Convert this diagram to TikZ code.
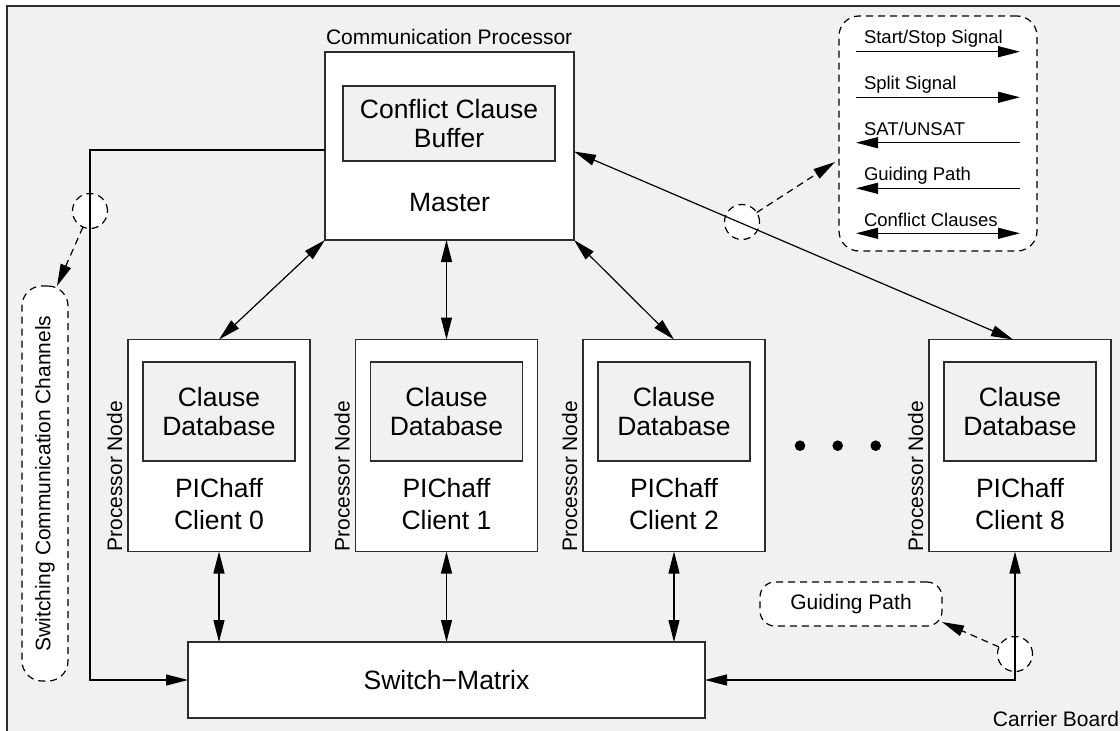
\documentclass[tikz,border=0pt]{standalone}
\usepackage{fontspec}
\setmainfont{Liberation Sans}
\usetikzlibrary{arrows.meta,calc}
\definecolor{boardgrey}{RGB}{241,241,241}
\definecolor{edgegrey}{RGB}{45,45,45}
\newcommand\bigtxt{\fontsize{26.5pt}{29pt}\selectfont}
\newcommand\lbltxt{\fontsize{21pt}{24pt}\selectfont}
\newcommand\keytxt{\fontsize{18.5pt}{21pt}\selectfont}
\tikzset{
  >={Triangle[length=22pt,width=11pt]},
  every node/.style={inner sep=0pt, outer sep=0pt},
  box/.style={draw=edgegrey, line width=1.4pt, fill=white},
  inbox/.style={draw=edgegrey, line width=1.4pt, fill=boardgrey, align=center, font=\bigtxt},
  conn/.style={draw=black, line width=1.2pt},
  dashline/.style={draw=black, line width=1.2pt, dash pattern=on 7pt off 5pt},
  pill/.style={dashline, fill=white},
  ring/.style={circle, minimum size=35pt, dashline, fill=white},
  dot/.style={circle, fill=black, minimum size=10.6pt}
}
\begin{document}
\begin{tikzpicture}[x=1pt,y=-1pt]
\useasboundingbox (0,0) rectangle (1120,731);
\clip (0,0) rectangle (1120,731);
\fill[white] (0,0) rectangle (1120,731);

% carrier board
\draw[draw=edgegrey, line width=2pt, fill=boardgrey] (7,6) rectangle (1140,750);
\node[font=\lbltxt, anchor=base east] (cb) at (1119,726) {Carrier Board};

% marker rings (lines pass over them)
\node[ring] (cL) at (90,211) {};
\node[ring] (cR) at (742,222) {};
\node[ring] (cB) at (1015,654) {};

% master
\node[font=\lbltxt, anchor=base west] (cpl) at (326,44) {Communication Processor};
\node[box, minimum width=249pt, minimum height=188pt] (m) at (449.5,146) {};
\node[inbox, minimum width=212pt, minimum height=75pt] (ccb) at (449,123.5) {Conflict Clause\\Buffer};
\node[font=\bigtxt, anchor=base] (mt) at (449.5,211) {Master};

% clients
\foreach \k/\cx in {0/219,1/446.5,2/674,8/1020} {
  \node[box, minimum width=182pt, minimum height=212pt] (c\k) at (\cx,445.5) {};
  \node[inbox, minimum width=152pt, minimum height=99pt] (db\k) at (\cx,411.6) {Clause\\Database};
  \node[font=\bigtxt, align=center] (pc\k) at (\cx,504.5) {PIChaff\\[3pt]Client \k};
  \node[font=\lbltxt, rotate=90, anchor=base west] (pn\k) at ($(c\k.south west)+(-6,0)$) {Processor Node};
}
\node[dot] (d1) at (800,445.7) {};
\node[dot] (d2) at (837.7,445.7) {};
\node[dot] (d3) at (875.7,445.7) {};

% switch matrix
\node[box, minimum width=517pt, minimum height=76pt, font=\bigtxt] (sw) at (446.5,680) {Switch−Matrix};

% connections
\draw[conn,<->] (m.south west) -- (c0.north);
\draw[conn,<->] (c1.north |- m.south) -- (c1.north);
\draw[conn,<->] (m.south east) -- (c2.north);
\draw[conn,<->] ([shift={(0,5.5)}]m.east) -- ([shift={(-7,0)}]c8.north);
\foreach \k in {0,1,2} {
  \draw[conn,<->] (c\k.south) -- (c\k.south |- sw.north);
}
\coordinate (lb) at (90,150);
\draw[conn,->] (m.west |- lb) -- (lb) |- (sw.west);
\draw[conn,<->] (sw.east) -| ([shift={(-5,0)}]c8.south);

% callouts
\node[pill, minimum width=46pt, minimum height=395pt, rounded corners=20pt] (swc) at (45,483.5) {};
\node[font=\lbltxt, rotate=90] (swct) at (swc.center) {Switching Communication Channels};
\node[pill, minimum width=182pt, minimum height=44pt, rounded corners=15pt, font=\lbltxt] (gp) at (851,604) {Guiding Path};
\node[pill, minimum width=198pt, minimum height=235pt, rounded corners=20pt] (key) at (938,133.5) {};

\draw[dashline,->] (cL) -- ([shift={(12,0)}]swc.north);
\draw[dashline,->] (cR) -- ([shift={(-4,28.5)}]key.west);
\draw[dashline,->] (cB) -- ([shift={(0,-4)}]gp.south east);

% legend
\coordinate (k1a) at (856,51.7);  \coordinate (k1b) at (1020,51.7);
\coordinate (k2a) at (856,97.3);  \coordinate (k2b) at (1020,97.3);
\coordinate (k3a) at (856,142.7); \coordinate (k3b) at (1020,142.7);
\coordinate (k4a) at (856,188.3); \coordinate (k4b) at (1020,188.3);
\coordinate (k5a) at (856,233.3); \coordinate (k5b) at (1020,233.3);
\draw[conn,->]  (k1a) -- (k1b);
\draw[conn,->]  (k2a) -- (k2b);
\draw[conn,<-]  (k3a) -- (k3b);
\draw[conn,<-]  (k4a) -- (k4b);
\draw[conn,<->] (k5a) -- (k5b);
\node[font=\keytxt, anchor=base west] (l1) at (864,43.3) {Start/Stop Signal};
\node[font=\keytxt, anchor=base west] (l2) at (864,89.3) {Split Signal};
\node[font=\keytxt, anchor=base west] (l3) at (864,135) {SAT/UNSAT};
\node[font=\keytxt, anchor=base west] (l4) at (864,180.3) {Guiding Path};
\node[font=\keytxt, anchor=base west] (l5) at (864,226) {Conflict Clauses};
\end{tikzpicture}
\end{document}
